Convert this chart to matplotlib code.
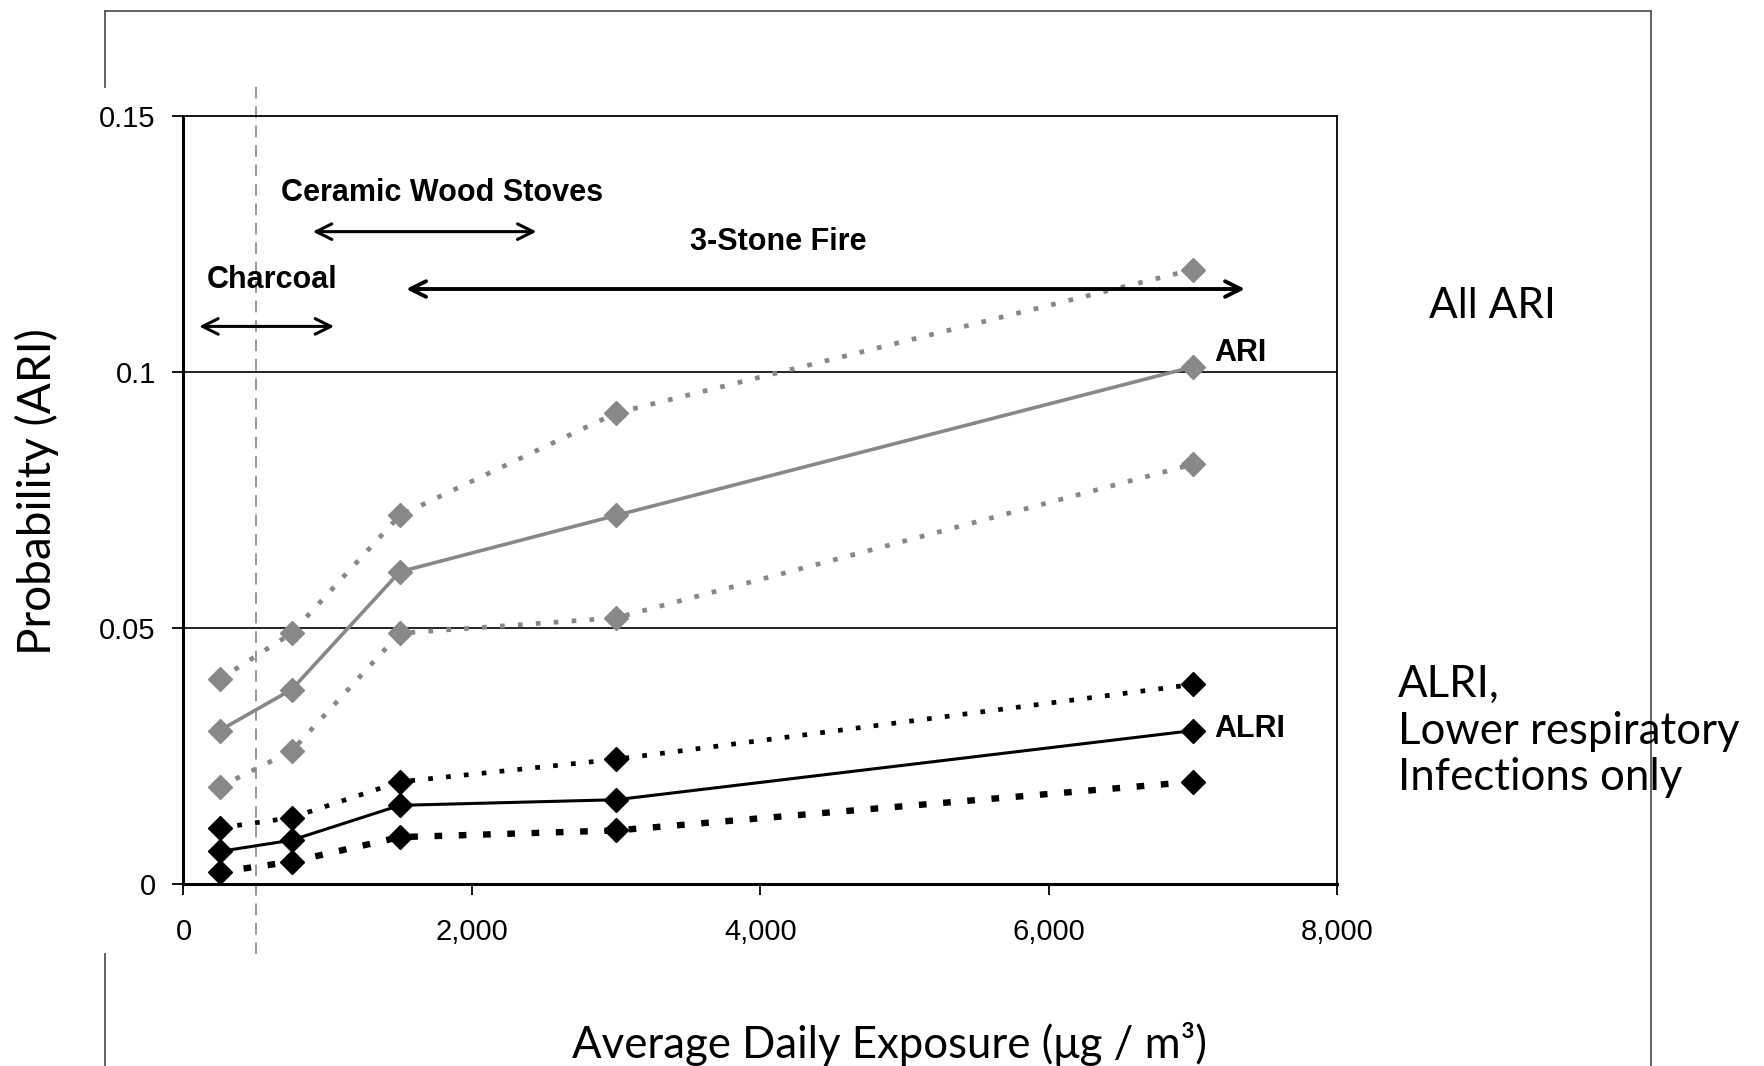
import matplotlib.pyplot as plt
from matplotlib.lines import Line2D

# exposure levels (ug/m3)
exposure = [250, 750, 1500, 3000, 7000]

# ARI: central estimate with upper / lower bounds
ari_mid = [0.030, 0.038, 0.061, 0.072, 0.101]
ari_hi = [0.040, 0.049, 0.072, 0.092, 0.120]
ari_lo = [0.019, 0.026, 0.049, 0.052, 0.082]

# ALRI: central estimate with upper / lower bounds
alri_mid = [0.0064, 0.0086, 0.0154, 0.0165, 0.030]
alri_hi = [0.011, 0.013, 0.020, 0.0244, 0.039]
alri_lo = [0.0024, 0.0044, 0.0092, 0.0105, 0.020]

x_ticks = [0, 2000, 4000, 6000, 8000]
x_ticklabels = ['0', '2,000', '4,000', '6,000', '8,000']
y_ticks = [0, 0.05, 0.1, 0.15]
y_ticklabels = ['0', '0.05', '0.1', '0.15']

narrow = ['Liberation Sans Narrow', 'Liberation Sans', 'DejaVu Sans']
body = ['Lato', 'DejaVu Sans']

fig = plt.figure(figsize=(17.64, 10.66), dpi=100)
ax = fig.add_axes([0.104, 0.1705, 0.654, 0.7208])

grey = '#888888'
mk = dict(marker='D', ms=12, zorder=3)
ax.plot(exposure, ari_hi, color=grey, lw=3.4, ls=(0, (1, 2.8)), mfc=grey, mec=grey, **mk)
ax.plot(exposure, ari_mid, color=grey, lw=2.6, ls='-', mfc=grey, mec=grey, **mk)
ax.plot(exposure, ari_lo, color=grey, lw=3.4, ls=(0, (1, 2.8)), mfc=grey, mec=grey, **mk)

ax.plot(exposure, alri_hi, color='black', lw=3.4, ls=(0, (1, 2.8)), mfc='black', mec='black', **mk)
ax.plot(exposure, alri_mid, color='black', lw=2.2, ls='-', mfc='black', mec='black', **mk)
ax.plot(exposure, alri_lo, color='black', lw=4.6, ls=(0, (1.2, 2.6)), mfc='black', mec='black', **mk)

ax.set_xlim(0, 8000)
ax.set_ylim(0, 0.15)
ax.set_xticks(x_ticks)
ax.set_xticklabels(x_ticklabels, family=narrow, fontsize=21)
ax.set_yticks(y_ticks)
ax.set_yticklabels(y_ticklabels, family=narrow, fontsize=21)
ax.tick_params(axis='x', direction='out', length=8, width=1.3, pad=16, colors='black')
ax.tick_params(axis='y', direction='out', length=8, width=1.3, pad=12, colors='black')
for y in [0.05, 0.1]:
    ax.axhline(y, color='#222222', lw=1.4, zorder=1)
for s in ['left', 'bottom']:
    ax.spines[s].set_linewidth(2.2)
for s in ['top', 'right']:
    ax.spines[s].set_linewidth(1.3)

# dashed line at 500
ax.plot([500, 500], [-0.0136, 0.156], color='#999999', lw=1.4, ls=(0, (6, 4)), clip_on=False, zorder=0)

# fuel ranges
arr = dict(arrowstyle='<->', color='black', lw=2.2, mutation_scale=28, shrinkA=0, shrinkB=0)
ax.annotate('', xy=(109, 0.1089), xytext=(1045, 0.1089), arrowprops=arr)
ax.annotate('', xy=(897, 0.1274), xytext=(2448, 0.1274), arrowprops=arr)
ax.annotate('', xy=(1544, 0.1162), xytext=(7361, 0.1162), arrowprops=dict(arr, lw=2.8))
lab = dict(family=narrow, fontsize=22, fontweight='bold', va='center')
ax.text(616, 0.118, 'Charcoal', ha='center', **lab)
ax.text(1793, 0.1349, 'Ceramic Wood Stoves', ha='center', **lab)
ax.text(4125, 0.1254, '3-Stone Fire', ha='center', **lab)
ax.text(7150, 0.1037, 'ARI', ha='left', **lab)
ax.text(7150, 0.0303, 'ALRI', ha='left', **lab)

# outer frame of the pasted picture
fc = '#555555'
fig.add_artist(Line2D([0.0593, 0.9362], [0.9894, 0.9894], color=fc, lw=1.3))
fig.add_artist(Line2D([0.9362, 0.9362], [0.0, 0.9894], color=fc, lw=1.3))
fig.add_artist(Line2D([0.0593, 0.0593], [0.918, 0.9894], color=fc, lw=1.3))
fig.add_artist(Line2D([0.0593, 0.0593], [0.0, 0.105], color=fc, lw=1.3))

fig.text(0.021, 0.539, 'Probability (ARI)', family=body, fontsize=33, rotation=90, ha='center', va='center')
fig.text(0.504, 0.0206, 'Average Daily Exposure (\u03bcg / m\u00b3)', family=body, fontsize=31.5, ha='center', va='center')
fig.text(0.810, 0.713, 'All ARI', family=body, fontsize=30.5, ha='left', va='center')
fig.text(0.7926, 0.314, 'ALRI,\nLower respiratory\nInfections only', family=body, fontsize=31.5,
         ha='left', va='center', linespacing=1.17)

fig.savefig('out.png', dpi=100)
